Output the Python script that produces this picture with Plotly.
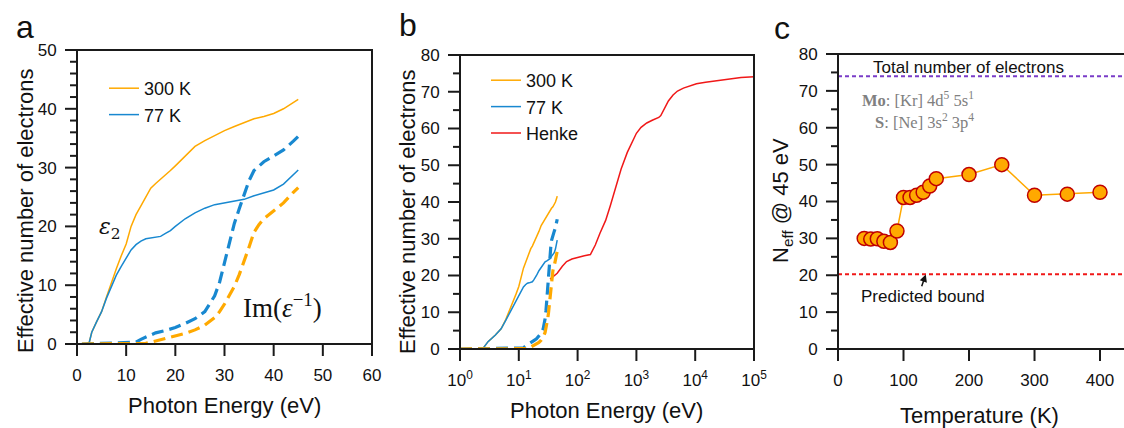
import math
import plotly.graph_objects as go

# ---------------- data ----------------
e_eps_300 = [1, 2, 2.5, 3, 4, 5, 6, 7, 8, 9, 10, 11, 12, 13, 14, 15, 16, 17, 18, 19, 20, 22, 24, 26, 28, 30, 32, 34, 36, 38, 40, 42, 44, 45]
n_eps_300 = [0, 0, 0.3, 2, 3.8, 5.5, 8, 10.5, 12.8, 15, 17, 20, 22, 23.5, 25, 26.5, 27.3, 28, 28.8, 29.5, 30.3, 32, 33.6, 34.6, 35.5, 36.3, 37, 37.7, 38.3, 38.7, 39.2, 40, 41, 41.6]
e_eps_77 = [1, 2, 2.5, 3, 4, 5, 6, 7, 8, 9, 10, 11, 12, 13, 14, 15, 16, 17, 18, 19, 20, 22, 24, 26, 28, 30, 32, 34, 36, 38, 40, 42, 44, 45]
n_eps_77 = [0, 0, 0.3, 2, 3.8, 5.5, 7.8, 9.8, 11.7, 13.2, 14.5, 16, 16.9, 17.5, 17.9, 18, 18.1, 18.3, 18.8, 19.3, 20, 21.3, 22.3, 23.1, 23.7, 24, 24.2, 24.6, 25.2, 25.7, 26.2, 27.2, 28.7, 29.6]
e_loss_77 = [1, 12, 13, 14, 16, 18, 20, 22, 24, 26, 27, 28, 29, 30, 31, 32, 33, 34, 35, 36, 37, 38, 40, 42, 44, 45]
n_loss_77 = [0, 0.3, 0.8, 1.2, 1.9, 2.3, 2.8, 3.5, 4.3, 5.5, 6.8, 8.2, 10.5, 14, 17.5, 20.5, 23, 25.5, 27.8, 29.5, 30.3, 31, 32, 33, 34.5, 35.3]
e_loss_300 = [1, 14, 16, 18, 20, 22, 24, 26, 28, 29, 30, 31, 32, 33, 34, 35, 36, 37, 38, 40, 42, 44, 45]
n_loss_300 = [0, 0.1, 0.5, 0.9, 1.3, 1.8, 2.4, 3.2, 4.5, 5.5, 6.8, 8.2, 9.8, 11.8, 14, 16.5, 19, 20.3, 21.3, 22.6, 24, 25.8, 26.6]
e_henke = [34, 40, 45, 55, 65, 80, 100, 130, 165, 200, 240, 300, 360, 450, 550, 700, 850, 1000, 1200, 1500, 1900, 2400, 2600, 2900, 3500, 4200, 5000, 6300, 8000, 10500, 15000, 20000, 30000, 40000, 60000, 100000]
n_henke = [19, 19.8, 20.6, 22.5, 23.8, 24.5, 25, 25.4, 25.7, 28.3, 31.5, 35, 39, 44.5, 49, 53.5, 56.5, 58.7, 60.3, 61.5, 62.3, 63, 63.5, 65, 67.5, 69.1, 70.2, 71, 71.6, 72.2, 72.6, 72.9, 73.3, 73.6, 73.9, 74.1]
temps = [40, 50, 60, 70, 80, 90, 100, 110, 120, 130, 140, 150, 200, 250, 300, 350, 400]
neff45 = [30, 29.8, 29.9, 29.2, 28.9, 32, 41.1, 41.1, 41.7, 42.5, 44.2, 46.2, 47.3, 50, 41.7, 42, 42.5]
total_electrons = 74
predicted_bound = 20.3

# axis ranges and tick values
a_xrange, a_yrange = [0, 60], [0, 50]
b_xrange_log, b_yrange = [0, 5], [0, 80]
c_xrange, c_yrange = [0, 436.6], [0, 80]
a_xticks = [0, 10, 20, 30, 40, 50, 60]
a_yticks = [0, 10, 20, 30, 40, 50]
a_yminor = [v for v in range(0, 51, 2) if v % 10]
b_xticks = [1, 10, 100, 1000, 10000, 100000]
b_xticktext = ["10<sup>0</sup>", "10<sup>1</sup>", "10<sup>2</sup>", "10<sup>3</sup>", "10<sup>4</sup>", "10<sup>5</sup>"]
b_yticks = [0, 10, 20, 30, 40, 50, 60, 70, 80]
b_yminor = [5, 15, 25, 35, 45, 55, 65, 75]
c_xticks = [0, 100, 200, 300, 400]
c_yticks = [0, 10, 20, 30, 40, 50, 60, 70, 80]
c_yminor = [5, 15, 25, 35, 45, 55, 65, 75]

ORANGE = "#FFA900"
BLUE = "#1888D0"
RED = "#F01818"
PURPLE = "#7A3CC8"
AX = "#1a1a1a"
FONT = "Liberation Sans, Arial, sans-serif"
W, H = 1124, 428

def px(x):
    return x / W

def py(y):
    return 1 - y / H

fig = go.Figure()
fig.add_trace(go.Scatter(x=e_eps_300, y=n_eps_300, mode="lines", name="300 K",
                         line=dict(color=ORANGE, width=1.5), xaxis="x", yaxis="y", legend="legend"))
fig.add_trace(go.Scatter(x=e_eps_77, y=n_eps_77, mode="lines", name="77 K",
                         line=dict(color=BLUE, width=1.5), xaxis="x", yaxis="y", legend="legend"))
fig.add_trace(go.Scatter(x=e_loss_77, y=n_loss_77, mode="lines", showlegend=False,
                         line=dict(color=BLUE, width=3.2, dash="12px,6px"), xaxis="x", yaxis="y"))
fig.add_trace(go.Scatter(x=e_loss_300, y=n_loss_300, mode="lines", showlegend=False,
                         line=dict(color=ORANGE, width=3.2, dash="12px,6px"), xaxis="x", yaxis="y"))
fig.add_trace(go.Scatter(x=e_eps_300, y=n_eps_300, mode="lines", name="300 K",
                         line=dict(color=ORANGE, width=1.5), xaxis="x2", yaxis="y2", legend="legend2"))
fig.add_trace(go.Scatter(x=e_eps_77, y=n_eps_77, mode="lines", name="77 K",
                         line=dict(color=BLUE, width=1.5), xaxis="x2", yaxis="y2", legend="legend2"))
fig.add_trace(go.Scatter(x=e_henke, y=n_henke, mode="lines", name="Henke",
                         line=dict(color=RED, width=1.5), xaxis="x2", yaxis="y2", legend="legend2"))
fig.add_trace(go.Scatter(x=e_loss_77, y=n_loss_77, mode="lines", showlegend=False,
                         line=dict(color=BLUE, width=3.2, dash="12px,6px"), xaxis="x2", yaxis="y2"))
fig.add_trace(go.Scatter(x=e_loss_300, y=n_loss_300, mode="lines", showlegend=False,
                         line=dict(color=ORANGE, width=3.2, dash="12px,6px"), xaxis="x2", yaxis="y2"))
fig.add_trace(go.Scatter(x=[0, 440], y=[total_electrons] * 2, mode="lines", showlegend=False,
                         line=dict(color=PURPLE, width=2, dash="4px,3px"), xaxis="x3", yaxis="y3"))
fig.add_trace(go.Scatter(x=[0, 440], y=[predicted_bound] * 2, mode="lines", showlegend=False,
                         line=dict(color=RED, width=2, dash="4px,3px"), xaxis="x3", yaxis="y3"))
fig.add_trace(go.Scatter(x=temps, y=neff45, mode="lines+markers", showlegend=False,
                         line=dict(color=ORANGE, width=1.5),
                         marker=dict(size=14, color=ORANGE, line=dict(color="#C00000", width=1.5)),
                         xaxis="x3", yaxis="y3"))

# axes: labels only; frame and tick marks drawn as domain-referenced shapes
axcommon = dict(showgrid=False, zeroline=False, showline=False, ticks="outside", ticklen=12,
                tickwidth=2, tickcolor="rgba(0,0,0,0)", automargin=False, ticklabelstandoff=4,
                tickfont=dict(family=FONT, size=17, color="#111"))

fig.update_layout(
    template="simple_white",
    width=W, height=H, margin=dict(l=0, r=0, t=0, b=0),
    paper_bgcolor="white", plot_bgcolor="white",
    font=dict(family=FONT, color="#111"),
    xaxis=dict(domain=[px(77), px(372)], range=a_xrange, tickvals=a_xticks, anchor="y", **axcommon),
    yaxis=dict(domain=[py(344), py(50)], range=a_yrange, tickvals=a_yticks, anchor="x", **axcommon),
    xaxis2=dict(domain=[px(460), px(754)], type="log", range=b_xrange_log, tickvals=b_xticks,
                ticktext=b_xticktext, anchor="y2", **axcommon),
    yaxis2=dict(domain=[py(349), py(55)], range=b_yrange, tickvals=b_yticks, anchor="x2", **axcommon),
    xaxis3=dict(domain=[px(838), 1.0], range=c_xrange, tickvals=c_xticks, anchor="y3", **axcommon),
    yaxis3=dict(domain=[py(349), py(54)], range=c_yrange, tickvals=c_yticks, anchor="x3", **axcommon),
    legend=dict(x=px(104), y=py(70), xanchor="left", yanchor="top", bgcolor="rgba(0,0,0,0)",
                font=dict(family=FONT, size=18, color="#111"), tracegroupgap=0),
    legend2=dict(x=px(486), y=py(62), xanchor="left", yanchor="top", bgcolor="rgba(0,0,0,0)",
                 font=dict(family=FONT, size=18, color="#111"), tracegroupgap=0),
)

shapes = []

def line_style():
    return dict(color=AX, width=2)

def frac(v, rng, log=False):
    val = math.log10(v) if log else v
    return (val - rng[0]) / (rng[1] - rng[0])

def add_shape(**kw):
    kw.setdefault("opacity", 1)
    kw.setdefault("fillcolor", "rgba(0,0,0,0)")
    kw.setdefault("layer", "above")
    kw.setdefault("line", line_style())
    shapes.append(kw)

def xtick_shapes(xa, ya, vals, rng, length, log=False):
    for v in vals:
        f = frac(v, rng, log)
        add_shape(type="line", xref=xa + " domain", yref=ya + " domain", x0=f, x1=f,
                  ysizemode="pixel", yanchor=0, y0=0, y1=-length)

def ytick_shapes(xa, ya, vals, rng, length):
    for v in vals:
        f = frac(v, rng)
        add_shape(type="line", xref=xa + " domain", yref=ya + " domain", y0=f, y1=f,
                  xsizemode="pixel", xanchor=0, x0=0, x1=-length)

# frames
add_shape(type="rect", xref="x domain", yref="y domain", x0=0, x1=1, y0=0, y1=1)
add_shape(type="rect", xref="x2 domain", yref="y2 domain", x0=0, x1=1, y0=0, y1=1)
for x0, x1, y0, y1 in [(0, 0, 0, 1), (0, 1, 0, 0), (0, 1, 1, 1)]:
    add_shape(type="line", xref="x3 domain", yref="y3 domain", x0=x0, x1=x1, y0=y0, y1=y1)
# ticks
xtick_shapes("x", "y", a_xticks, a_xrange, 12)
ytick_shapes("x", "y", a_yticks, a_yrange, 12)
ytick_shapes("x", "y", a_yminor, a_yrange, 7)
xtick_shapes("x2", "y2", b_xticks, b_xrange_log, 12, log=True)
ytick_shapes("x2", "y2", b_yticks, b_yrange, 12)
ytick_shapes("x2", "y2", b_yminor, b_yrange, 7)
xtick_shapes("x3", "y3", c_xticks, c_xrange, 12)
ytick_shapes("x3", "y3", c_yticks, c_yrange, 12)
ytick_shapes("x3", "y3", c_yminor, c_yrange, 7)
fig.update_layout(shapes=shapes)

ann = []
for letter, x, y in [("a", 25, 27), ("b", 408, 25), ("c", 782, 28)]:
    ann.append(dict(text=letter, x=px(x), y=py(y), xref="paper", yref="paper", showarrow=False,
                    xanchor="center", yanchor="middle", font=dict(family=FONT, size=32, color="#111")))
for t, x, y in [("Photon Energy (eV)", 224, 405), ("Photon Energy (eV)", 606, 410), ("Temperature (K)", 979, 415)]:
    ann.append(dict(text=t, x=px(x), y=py(y), xref="paper", yref="paper", showarrow=False,
                    xanchor="center", yanchor="middle", font=dict(family=FONT, size=22, color="#111")))
for t, x, y in [("Effective number of electrons", 25, 211), ("Effective number of electrons", 408, 212),
                ("N<sub>eff</sub> @ 45 eV", 782, 201)]:
    ann.append(dict(text=t, x=px(x), y=py(y), xref="paper", yref="paper", showarrow=False, textangle=-90,
                    xanchor="center", yanchor="middle", font=dict(family=FONT, size=22, color="#111")))
ann.append(dict(text="<i>ε</i><sub>2</sub>", x=6.7, y=19.6, xref="x", yref="y", showarrow=False,
                font=dict(family="DejaVu Serif", size=22, color="#111")))
ann.append(dict(text="Im(<i>ε</i><sup>−1</sup>)", x=41.8, y=6.5, xref="x", yref="y", showarrow=False,
                font=dict(family="Liberation Serif, DejaVu Serif", size=27, color="#111")))
ann.append(dict(text="Total number of electrons", x=199, y=total_electrons, xref="x3", yref="y3",
                showarrow=False, yanchor="bottom", yshift=-3, font=dict(family=FONT, size=17, color="#111")))
ann.append(dict(text="<b>Mo</b>: [Kr] 4d<sup>5</sup> 5s<sup>1</sup>", x=34, y=67.6, xref="x3", yref="y3",
                showarrow=False, xanchor="left", font=dict(family="Liberation Serif, serif", size=16.5, color="#808080")))
ann.append(dict(text="<b>S</b>: [Ne] 3s<sup>2</sup> 3p<sup>4</sup>", x=53, y=61.6, xref="x3", yref="y3",
                showarrow=False, xanchor="left", font=dict(family="Liberation Serif, serif", size=16.5, color="#808080")))
ann.append(dict(text="Predicted bound", x=129, y=14.3, xref="x3", yref="y3", showarrow=False,
                font=dict(family=FONT, size=17, color="#111")))
ann.append(dict(text="", x=134, y=20.2, ax=127, ay=16.6, xref="x3", yref="y3", axref="x3", ayref="y3",
                showarrow=True, arrowhead=2, arrowsize=1, arrowwidth=1.5, arrowcolor="#111"))
fig.update_layout(annotations=ann)

fig.write_html("out.html", config={"displayModeBar": False},
               post_script="document.body.style.margin='0px';")
